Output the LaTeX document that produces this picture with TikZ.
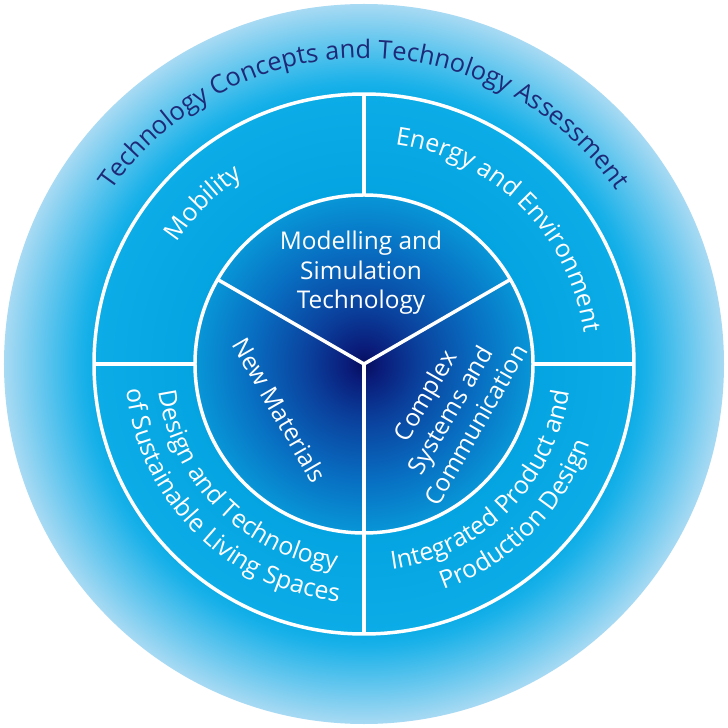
\documentclass[tikz,border=0pt]{standalone}
\usepackage{fontspec}
\setmainfont{Open Sans}
\usetikzlibrary{decorations.text}
\definecolor{cA}{RGB}{6,14,92}
\definecolor{cB}{RGB}{10,28,122}
\definecolor{cC}{RGB}{10,66,158}
\definecolor{cD}{RGB}{8,110,193}
\definecolor{cE}{RGB}{8,150,215}
\definecolor{cF}{RGB}{4,164,226}
\definecolor{cG}{RGB}{12,172,231}
\definecolor{cH}{RGB}{28,178,233}
\definecolor{cI}{RGB}{168,218,243}
\definecolor{titleblue}{RGB}{30,42,120}
\pgfdeclareradialshading{discshade}{\pgfpoint{0bp}{0bp}}{%
 color(0bp)=(cA); color(1.2bp)=(cB); color(4bp)=(cC); color(8bp)=(cD);
 color(11.7bp)=(cE); color(11.75bp)=(cF); color(18.75bp)=(cG);
 color(19.7bp)=(cH); color(25bp)=(cI); color(50bp)=(cI)}
\newcommand\ringfont{\fontsize{25}{31}\selectfont}
\newcommand\titlefont{\fontsize{25.5}{30}\selectfont}
\newcommand\innerfont{\fontsize{24.5}{29.5}\selectfont}
\begin{document}
\begin{tikzpicture}[x=1bp,y=1bp,
  divider/.style={white, line width=3.5pt},
  ringtext/.style={decorate, decoration={text along path, text align=center,
     text color=white, text={|\ringfont|#1}}},
  titletext/.style={decorate, decoration={text along path, text align=center,
     text color=titleblue, text={|\titlefont|#1}}},
  innertext/.style={text=white, align=center, font=\innerfont, inner sep=0pt}]
\fill[white] (-364,-364) rectangle (364,364);
\useasboundingbox (-364,-364) rectangle (364,364);
\coordinate (O) at (0,0);
\shade[shading=discshade] (O) circle[radius=360];
% dividers
\draw[divider] (O) circle[radius=270];
\draw[divider] (O) circle[radius=169];
\draw[divider] (90:169) -- (90:270);
\draw[divider] (180:169) -- (180:270);
\draw[divider] (0:169) -- (0:270);
\draw[divider] (270:169) -- (270:270);
\draw[divider] (O) -- (150:169);
\draw[divider] (O) -- (30:169);
\draw[divider] (O) -- (270:169);
% title
\path[titletext={Technology Concepts and Technology Assessment}]
  (180:306) arc[start angle=180, end angle=0, radius=306];
% ring texts
\path[ringtext={Mobility}] (180:223) arc[start angle=180, end angle=90, radius=223];
\path[ringtext={Energy and Environment}] (90:222) arc[start angle=90, end angle=0, radius=222];
\path[ringtext={Design and Technology}] (180:207) arc[start angle=180, end angle=270, radius=207];
\path[ringtext={of Sustainable Living Spaces}] (180:239) arc[start angle=180, end angle=270, radius=239];
\path[ringtext={Integrated Product and}] (270:207) arc[start angle=270, end angle=360, radius=207];
\path[ringtext={Production Design}] (270:239) arc[start angle=270, end angle=360, radius=239];
% inner texts
\node[innertext] (msim) at (-3,91) {Modelling and\\Simulation\\Technology};
\node[innertext, rotate=-60] (newmat) at (-84,-46) {New Materials};
\node[innertext, rotate=60] (complex) at (86,-46) {Complex\\Systems and\\Communication};
\end{tikzpicture}
\end{document}
